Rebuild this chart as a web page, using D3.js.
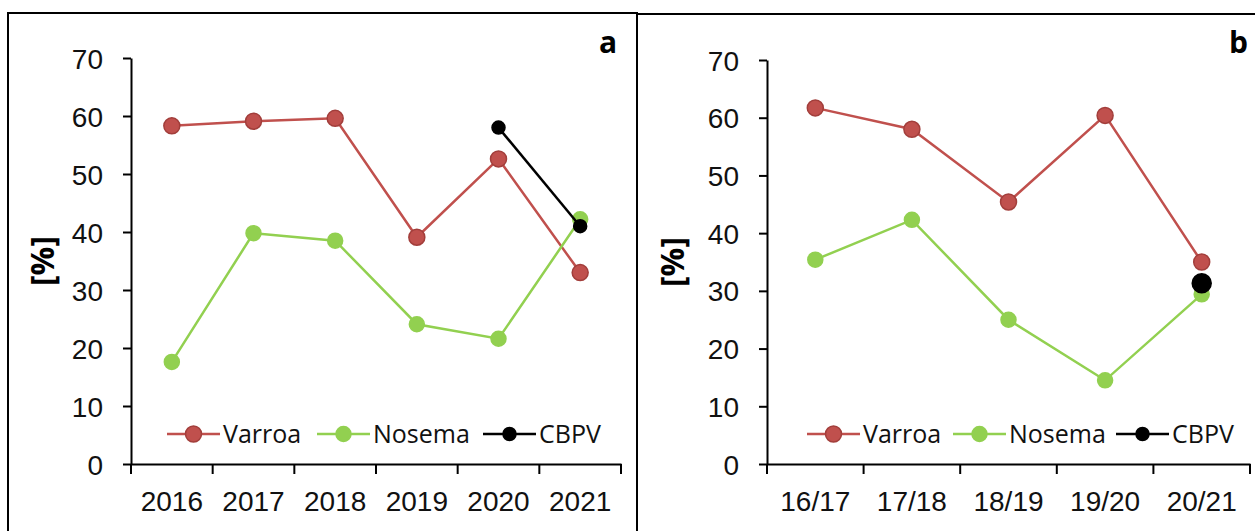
<!DOCTYPE html>
<html>
<head>
<meta charset="utf-8">
<script src="https://cdn.jsdelivr.net/npm/d3@7"></script>
<style>
  body { margin: 0; background: #fff; }
  svg { font-family: "Open Sans", "Noto Sans", sans-serif; }
</style>
</head>
<body>
<svg id="chart" width="1255" height="531"></svg>
<script>
// data
var yearsA = ["2016", "2017", "2018", "2019", "2020", "2021"];
var varroaA = [58.3, 59.1, 59.6, 39.1, 52.6, 33.0];
var nosemaA = [17.6, 39.8, 38.5, 24.1, 21.6, 42.2];
var cbpvA = [null, null, null, null, 58.0, 41.0];

var seasonsB = ["16/17", "17/18", "18/19", "19/20", "20/21"];
var varroaB = [61.7, 58.0, 45.4, 60.4, 35.0];
var nosemaB = [35.4, 42.3, 25.0, 14.5, 29.4];
var cbpvB = [null, null, null, null, 31.3];

var yTicks = [0, 10, 20, 30, 40, 50, 60, 70];
var seriesNames = ["Varroa", "Nosema", "CBPV"];

var svg = d3.select("#chart");

// panel frames
svg.append("rect").attr("x", 8).attr("y", 13).attr("width", 629).attr("height", 540)
  .attr("fill", "none").attr("stroke", "#000").attr("stroke-width", 2);
svg.append("rect").attr("x", 637).attr("y", 14).attr("width", 630).attr("height", 540)
  .attr("fill", "none").attr("stroke", "#000").attr("stroke-width", 2);

function drawPanel(opt) {
  var g = svg.append("g");

  var x = d3.scaleBand().domain(opt.cats).range([opt.left, opt.right]);
  var y = d3.scaleLinear().domain([0, 70]).range([opt.bottom, opt.top]);

  // y axis
  var yAxis = g.append("g")
    .attr("transform", "translate(" + opt.left + ",0)")
    .call(d3.axisLeft(y).tickValues(yTicks).tickSize(8).tickPadding(20).tickSizeOuter(0));
  yAxis.select(".domain").attr("stroke-width", 2);
  yAxis.selectAll(".tick line").attr("stroke-width", 2);
  yAxis.selectAll("text").attr("font-size", 28).attr("fill", "#111").attr("dy", "0.36em");

  // x axis, ticks between categories
  var xAxis = g.append("g")
    .attr("transform", "translate(0," + opt.bottom + ")")
    .call(d3.axisBottom(x).tickSize(0).tickPadding(27));
  xAxis.select(".domain").attr("stroke-width", 2);
  xAxis.selectAll("text").attr("font-size", 28).attr("fill", "#111");
  var bounds = opt.cats.map(function (c) { return x(c); }).concat([opt.right]);
  g.selectAll(".xtick").data(bounds).enter().append("line")
    .attr("x1", function (d) { return d; }).attr("x2", function (d) { return d; })
    .attr("y1", opt.bottom).attr("y2", opt.bottom + 10)
    .attr("stroke", "#000").attr("stroke-width", 2);

  var cx = function (i) { return x(opt.cats[i]) + x.bandwidth() / 2; };

  var series = [
    { vals: opt.varroa, color: "#C0504D", stroke: "#A23E3B", r: 8, rLeg: 8 },
    { vals: opt.nosema, color: "#92D050", stroke: "#92D050", r: 7.5, rLeg: 7.5 },
    { vals: opt.cbpv, color: "#000", stroke: "#000", r: opt.cbpvR, rLeg: 6.5 }
  ];

  series.forEach(function (s) {
    var pts = s.vals.map(function (v, i) { return { i: i, v: v }; })
      .filter(function (p) { return p.v !== null; });
    var line = d3.line().x(function (p) { return cx(p.i); }).y(function (p) { return y(p.v); });
    g.append("path").datum(pts).attr("d", line)
      .attr("fill", "none").attr("stroke", s.color).attr("stroke-width", 2.5);
    g.selectAll(null).data(pts).enter().append("circle")
      .attr("cx", function (p) { return cx(p.i); })
      .attr("cy", function (p) { return y(p.v); })
      .attr("r", s.r)
      .attr("fill", s.color).attr("stroke", s.stroke).attr("stroke-width", 1.5);
  });

  // legend
  var legY = opt.legendY;
  series.forEach(function (s, k) {
    var lx = opt.legendX[k];
    g.append("line").attr("x1", lx).attr("x2", lx + 53).attr("y1", legY).attr("y2", legY)
      .attr("stroke", s.color).attr("stroke-width", 2.5);
    g.append("circle").attr("cx", lx + 26.5).attr("cy", legY).attr("r", s.rLeg)
      .attr("fill", s.color).attr("stroke", s.stroke).attr("stroke-width", 1.5);
    g.append("text").attr("x", lx + 56).attr("y", legY).attr("dy", "0.36em")
      .attr("font-size", 25).attr("fill", "#111").text(seriesNames[k]);
  });

  // y label
  g.append("text")
    .attr("transform", "translate(" + opt.yLabelX + "," + ((opt.top + opt.bottom) / 2) + ") rotate(-90)")
    .attr("text-anchor", "middle").attr("dy", "0.36em")
    .attr("font-size", 32).attr("font-weight", "bold").text("[%]");

  // panel letter
  g.append("text").attr("x", opt.letterX).attr("y", 53)
    .attr("text-anchor", "end").attr("font-size", 30).attr("font-weight", "bold").text(opt.letter);
}

drawPanel({
  cats: yearsA, varroa: varroaA, nosema: nosemaA, cbpv: cbpvA,
  left: 131, right: 621, top: 58, bottom: 464, cbpvR: 6.5,
  legendY: 434, legendX: [167, 317, 483], yLabelX: 42, letter: "a", letterX: 617
});

drawPanel({
  cats: seasonsB, varroa: varroaB, nosema: nosemaB, cbpv: cbpvB,
  left: 767, right: 1250, top: 60, bottom: 464, cbpvR: 9.5,
  legendY: 434, legendX: [807, 953, 1116], yLabelX: 672, letter: "b", letterX: 1248
});
</script>
</body>
</html>
